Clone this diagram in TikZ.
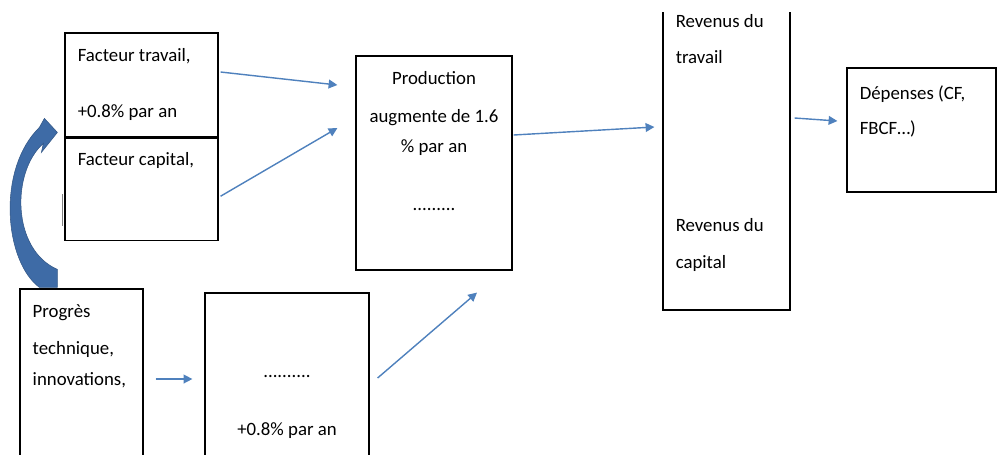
\documentclass[tikz,border=0pt]{standalone}
\usepackage{fontspec}
\setmainfont{Carlito}
\usetikzlibrary{positioning,arrows.meta}
\definecolor{flowblue}{RGB}{79,129,189}
\definecolor{techblue}{RGB}{62,107,166}

\begin{document}
\begin{tikzpicture}[
  x=0.02cm, y=-0.02cm,
  box/.style={draw, line width=0.7pt, inner sep=0pt},
  lbl/.style={inner sep=0pt, font=\fontsize{10.7}{12}\selectfont,
    text height=1.6ex, text depth=.4ex},
  lleft/.style={lbl, anchor=west},
  flowarr/.style={-{Triangle[length=5pt, width=5pt]}, draw=flowblue,
    fill=flowblue, line width=0.8pt},
  techarr/.style={fill=techblue, draw=techblue!80!black, line width=0.3pt},
]
\useasboundingbox (0,0) rectangle (997,454);
\clip (0,12) rectangle (997,454);
% boxes
\node[box, minimum width=3.06cm, minimum height=2.08cm] (trav) at (141.5,85) {};
\node[box, minimum width=3.06cm, minimum height=2.04cm, below=0pt of trav] (cap) {};
\node[box, minimum width=2.46cm, minimum height=3.64cm] (prog) at (81.5,380) {};
\node[box, minimum width=3.28cm, minimum height=3.54cm] (low) at (287,381.5) {};
\node[box, minimum width=3.12cm, minimum height=4.28cm] (prod) at (434,163) {};
\node[box, minimum width=2.54cm, minimum height=6.4cm] (rev) at (726.5,150) {};
\node[box, minimum width=2.98cm, minimum height=2.48cm] (dep) at (921.5,130) {};
% texts
\node[lleft] (trav1) at ([shift={(13,24)}]trav.north west) {Facteur travail,};
\node[lleft] (trav2) at ([shift={(13,80)}]trav.north west) {+0.8\% par an};
\node[lleft] (cap1) at ([shift={(13,23)}]cap.north west) {Facteur capital,};
\node[lleft] (prog1) at ([shift={(13,24)}]prog.north west) {Progrès};
\node[lleft] (prog2) at ([shift={(13,61)}]prog.north west) {technique,};
\node[lleft] (prog3) at ([shift={(13,92)}]prog.north west) {innovations,};
\node[lbl] (low1) at ([shift={(0,80)}]low.north) {..........};
\node[lbl] (low2) at ([shift={(0,138)}]low.north) {+0.8\% par an};
\node[lbl] (prod1) at ([shift={(0,24)}]prod.north) {Production};
\node[lbl] (prod2) at ([shift={(0,62)}]prod.north) {augmente de 1.6};
\node[lbl] (prod3) at ([shift={(0,92)}]prod.north) {\% par an};
\node[lbl] (prod4) at ([shift={(0,150)}]prod.north) {.........};
\node[lleft] (rev1) at ([shift={(13,33)}]rev.north west) {Revenus du};
\node[lleft] (rev2) at ([shift={(13,69)}]rev.north west) {travail};
\node[lleft] (rev3) at ([shift={(13,237)}]rev.north west) {Revenus du};
\node[lleft] (rev4) at ([shift={(13,274)}]rev.north west) {capital};
\node[lleft] (dep1) at ([shift={(13,27)}]dep.north west) {Dépenses (CF,};
\node[lleft] (dep2) at ([shift={(13,62)}]dep.north west) {FBCF…)};
% connectors
\draw[flowarr] ([shift={(2,-13)}]trav.east) -- ([shift={(-18,-78)}]prod.west);
\draw[flowarr] ([shift={(2,7)}]cap.east) -- ([shift={(-18,-35)}]prod.west);
\draw[flowarr] ([shift={(1,-28)}]prod.east) -- ([shift={(-8,-23)}]rev.west);
\draw[flowarr] ([shift={(4,-32)}]rev.east) -- ([shift={(-9,-9)}]dep.west);
\draw[flowarr] ([shift={(12,-1)}]prog.east) -- ([shift={(-12,-2.5)}]low.west);
\draw[flowarr] ([shift={(8,-3.5)}]low.east) -- ([shift={(43,22)}]prod.south);
% curved arrow from progres up to the factors
\begin{scope}[shift={(prog.north west)}]
\path[techarr] (20,-1) .. controls (-15,-27) and (-23,-119) .. (20,-161)
  -- (25,-170) -- (38,-156) -- (22,-136) -- (24,-145)
  .. controls (-8,-117) and (-8,-39) .. (38,-19) -- (38,-1) -- cycle;
\end{scope}
\draw[gray, line width=0.6pt] ([shift={(-2,5)}]cap.west) -- ([shift={(-2,37)}]cap.west);
\end{tikzpicture}
\end{document}
